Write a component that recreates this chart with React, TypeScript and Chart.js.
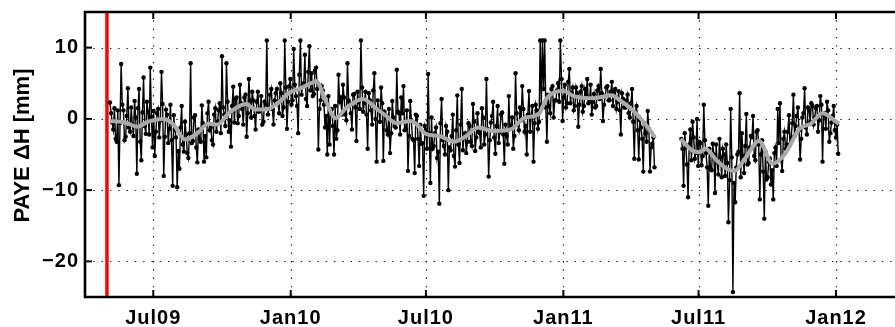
import React, { useEffect, useRef } from 'react';
import { Chart, registerables } from 'chart.js';

Chart.register(...registerables);

// x axis: days since 1 Jan 2009
const tickDays = [181, 365, 546, 730, 911, 1095];
const tickLabels = ['Jul09', 'Jan10', 'Jul10', 'Jan11', 'Jul11', 'Jan12'];
const yTickValues = [-20, -10, 0, 10];
const yTickLabels = ['\u221220', '\u221210', '0', '10'];
const X_MIN = 89.6;
const X_MAX = 1174;
const Y_MIN = -25;
const Y_MAX = 15;
const offsetDay = 119; // red vertical marker
const yTitle = 'PAYE \u0394H [mm]';

// raw daily solutions: main samples every 3 days, plus the samples half-way between them
const seg1StartDay = 123;
const seg2StartDay = 888;
const sampleStepDays = 3;

const seg1Values = [
  2.3, -0.5, 1.5, -3.2, -9.3, 7.7, 1.2, -2.5, 4.3, -1.8,
  -0.8, 2.5, -7.7, 4.2, -5.8, 5.8, -2.1, 1.0, 7.2, -4.0,
  -5.2, 0.8, -2.6, 6.6, -8.0, 1.3, -3.4, 2.0, -9.4, -1.5,
  -9.6, -7.0, 1.8, -4.6, -2.2, -5.5, 7.8, -3.1, 0.5, -6.1,
  -2.8, 1.9, -6.0, -5.4, 2.4, -1.2, -3.6, 1.5, -0.4, 2.2,
  8.8, 0.6, 7.8, -1.8, -3.9, 4.5, 2.8, -0.6, 4.8, 1.4,
  3.0, -2.5, 5.6, 0.2, 2.6, -1.5, 3.8, 1.2, -0.8, 2.4,
  11.0, 1.5, 4.2, -0.8, 3.6, 2.1, 5.0, 0.4, 11.0, -1.4,
  4.6, 2.0, 9.8, 3.2, -2.0, 11.0, 4.8, 9.0, 1.8, 10.2,
  6.4, 3.5, 7.2, -4.3, 2.6, 4.0, -1.2, -5.0, -3.6, 1.4,
  -5.0, -2.8, 6.2, 3.0, 4.8, 0.6, 7.8, 2.2, -1.5, 3.5,
  -3.1, 2.4, 11.0, 1.0, 3.8, -4.2, 2.6, -0.8, 6.4, -6.0,
  1.2, 4.4, -5.9, 0.5, -2.2, -4.8, 2.5, -1.0, 6.9, 0.8,
  3.0, 4.6, -1.5, -7.3, 2.5, -2.8, -7.6, 0.4, -6.6, -3.5,
  -10.8, -1.6, 6.3, -9.0, -4.2, -2.0, -5.5, -11.9, 2.8, -3.8,
  -1.0, -10.0, -4.4, 0.6, -6.7, 3.3, -6.2, 4.2, -2.5, -4.8,
  -0.6, -3.2, 2.1, -4.5, 0.8, -2.0, 1.5, -3.6, 5.6, -8.1,
  -0.5, 2.4, -4.9, 1.8, -1.8, 0.9, -6.3, -2.4, 3.2, -1.0,
  -4.2, 6.4, -0.8, 1.6, 4.6, -1.8, -5.0, 3.9, 0.4, -6.0,
  2.0, -1.4, 11.0, 11.0, 11.0, -3.2, 1.8, 4.2, 0.2, 2.6,
  5.0, 11.0, -0.3, 4.8, 2.2, 7.0, 3.6, 1.2, 4.4, -1.1,
  3.8, 1.0, 4.2, 5.6, 2.4, 0.6, 3.5, 1.8, 4.6, 7.0,
  -0.3, 3.2, 4.6, 2.6, 5.2, 3.8, 1.4, 3.9, -2.2, 2.8,
  1.6, 3.4, 0.2, 4.2, -5.6, 1.8, -5.7, -1.2, -7.4, -2.0, 1.1, -7.4, -3.5, -6.8,
];

const seg1MidValues = [
  0.8, -1.5, -2.8, 1.2, -0.6, 2.0, -3.0, 0.4, -1.2, 1.6,
  -2.4, 0.2, 1.5, -3.2, 0.9, -1.0, 2.4, -2.2, 0.3, 1.1,
  -1.8, 1.4, -0.2, 2.1, -2.5, 0.6, -1.4, -3.0, 0.5, -2.6,
  -4.5, -1.2, -3.6, -0.4, -4.8, -2.0, -3.4, 0.2, -4.0, -1.5,
  -3.2, -0.6, -2.4, 0.8, -1.6, -3.0, 0.6, -1.8, 1.2, -2.0,
  1.6, -1.0, 2.4, -0.2, 1.8, -0.5, 3.0, 0.4, 2.2, -0.8,
  3.4, 0.8, 2.6, 3.8, 0.4, 2.4, 1.0, 3.2, -0.4, 2.0,
  0.6, 3.4, 1.4, 2.6, 4.2, 0.8, 3.6, 1.6, 4.4, 2.4,
  5.6, 2.6, 4.8, 1.8, 6.2, 3.4, 5.0, 2.8, 6.6, 4.0,
  3.2, 6.8, 4.2, 1.4, 4.6, 2.0, 0.4, 3.2, 1.2, -1.0,
  1.8, -1.6, 2.4, 0.6, 3.0, -0.2, 2.6, 0.8, 3.4, 1.6,
  3.8, 1.4, 4.4, 2.2, 0.6, 3.6, 1.2, 4.0, 0.0, 2.6,
  -0.4, 2.2, 1.0, -1.6, 1.4, -2.0, 0.2, -1.2, 1.0, -2.2,
  0.8, -1.6, 1.2, -2.4, -0.2, -3.0, 0.6, -2.8, -0.8, -3.4,
  -1.0, -4.2, -2.0, 0.2, -3.8, -1.2, -4.6, -0.6, -3.0, -5.0,
  -1.8, -4.0, -2.4, -5.2, -1.6, -3.6, -0.8, -4.4, -2.0, -3.2,
  -1.0, -3.8, -0.4, -2.6, -1.8, -4.0, 0.2, -2.2, -1.4, -3.0,
  0.4, -2.6, -1.0, -3.4, 0.6, -2.2, -0.8, -3.6, -1.4, 0.2,
  -2.4, 0.8, -1.6, -0.2, 1.4, -1.0, 0.6, -1.8, 1.8, -0.6,
  1.2, -0.4, 2.0, 4.2, 1.6, 3.4, 0.8, 4.6, 2.6, 4.0,
  2.4, 5.6, 3.0, 1.6, 5.2, 2.2, 4.4, 1.8, 3.6, 2.0,
  4.6, 1.8, 3.4, 2.2, 4.8, 2.4, 1.6, 4.0, 2.8, 3.6,
  2.0, 4.4, 2.6, 3.8, 1.8, 4.2, 2.4, 1.2, 3.6, 1.6,
  2.6, 0.8, 2.2, -0.4, 1.0, -1.6, -0.2, -2.8, -0.6, -3.2, -1.4, -4.0, -2.6,
];

const seg2Values = [
  -2.8, -9.4, -4.0, -11.0, -1.5, -0.4, -5.6, 0.0, -3.2, -6.5,
  2.0, -4.8, -12.2, -7.0, -3.5, -10.4, -6.0, -2.8, -8.2, -5.0,
  -3.6, -14.5, 1.4, -24.3, -11.7, -5.0, 3.6, -2.0, -7.6, 0.7,
  -6.2, -2.4, 0.4, -5.8, -1.6, -11.3, -3.0, -14.0, -8.5, -6.0,
  -9.2, -11.3, -4.0, 1.4, 2.2, -7.3, -1.8, -3.6, 0.5, -2.6,
  3.4, -1.0, 1.6, -5.7, 0.2, 4.3, -2.2, 1.2, 2.2, -0.8,
  1.5, -1.8, 3.2, -6.0, 0.8, 2.4, -3.2, -0.5, 1.8, -2.6, -4.9,
];

const seg2MidValues = [
  -4.2, -2.0, -6.4, -3.6, -5.8, -2.6, -4.8, -6.6, -3.4, -5.2,
  -3.0, -6.8, -4.2, -7.2, -5.0, -3.6, -7.8, -5.4, -4.2, -8.0,
  -6.2, -8.6, -5.4, -9.0, -6.8, -4.6, -8.2, -5.2, -3.8, -6.4,
  -4.0, -2.6, -5.2, -1.8, -3.6, -5.0, -7.4, -4.6, -8.2, -5.6,
  -7.2, -4.8, -6.6, -3.4, -5.8, -2.8, -4.2, -1.8, -3.6, -0.6,
  -2.4, 0.4, -1.6, -2.8, 0.8, -1.2, 1.6, -0.4, 1.8, 0.2,
  1.8, -0.2, 2.0, 0.6, -1.4, 1.2, -2.0, 0.4, -1.6, -0.8,
];

// smoothed series
const smoothDays1 = [123, 143, 160, 174, 194, 207, 224, 240, 255, 267, 282, 305, 318, 331, 348, 362, 376, 392, 399, 412, 425, 439, 462, 479, 493, 506, 526, 533, 546, 564, 584, 600, 616, 636, 661, 677, 698, 707, 730, 744, 771, 795, 802, 824, 838, 853];
const smoothVals1 = [-0.3, -0.5, -1.1, -0.4, 0, -0.7, -2.9, -2.0, -0.7, -0.8, 0.8, 2.1, 1.3, 1.3, 2.2, 3.6, 4.2, 5.0, 5.3, 2.5, 0.1, 1.5, 2.8, 1.5, 0.4, -0.6, -0.3, -0.7, -2.1, -2.4, -3.2, -2.4, -1.2, -1.7, -1.4, 0.1, 0.8, 2.8, 3.9, 3.2, 2.9, 3.3, 2.9, 1.1, -0.5, -2.6];
const smoothDays2 = [887, 902, 912, 920, 936, 949, 959, 973, 992, 1010, 1027, 1046, 1061, 1077, 1094, 1099];
const smoothVals2 = [-2.8, -4.4, -4.7, -4.2, -5.9, -7.0, -7.3, -5.6, -3.1, -6.3, -4.9, -1.4, -0.7, 0.8, -0.3, -0.7];

const FONT = '"Liberation Sans", Arial, Helvetica, sans-serif';

const framePlugin = {
  id: 'matlabFrame',
  beforeDraw(chart: any) {
    chart.ctx.letterSpacing = '1px';
  },
  beforeDatasetsDraw(chart: any) {
    const { ctx, chartArea: a, scales } = chart;
    ctx.save();
    ctx.strokeStyle = '#1a1a1a';
    ctx.lineWidth = 1.2;
    ctx.setLineDash([1.4, 6.9]);
    tickDays.forEach((d) => {
      const x = Math.round(scales.x.getPixelForValue(d)) + 0.5;
      ctx.beginPath();
      ctx.moveTo(x, a.top);
      ctx.lineTo(x, a.bottom);
      ctx.stroke();
    });
    yTickValues.forEach((v) => {
      const y = Math.round(scales.y.getPixelForValue(v)) + 0.5;
      ctx.beginPath();
      ctx.moveTo(a.left, y);
      ctx.lineTo(a.right, y);
      ctx.stroke();
    });
    ctx.restore();
  },
  afterDatasetsDraw(chart: any) {
    const { ctx, chartArea: a, scales } = chart;
    ctx.save();
    ctx.setLineDash([]);
    ctx.strokeStyle = '#000';
    ctx.lineWidth = 2;
    tickDays.forEach((d) => {
      const x = scales.x.getPixelForValue(d);
      ctx.beginPath();
      ctx.moveTo(x, a.bottom);
      ctx.lineTo(x, a.bottom - 7);
      ctx.moveTo(x, a.top);
      ctx.lineTo(x, a.top + 7);
      ctx.stroke();
    });
    yTickValues.forEach((v) => {
      const y = scales.y.getPixelForValue(v);
      ctx.beginPath();
      ctx.moveTo(a.left, y);
      ctx.lineTo(a.left + 7, y);
      ctx.stroke();
    });
    ctx.lineWidth = 2.6;
    ctx.beginPath();
    ctx.moveTo(a.right + 5, a.top);
    ctx.lineTo(a.left, a.top);
    ctx.lineTo(a.left, a.bottom);
    ctx.lineTo(a.right + 5, a.bottom);
    ctx.stroke();
    ctx.restore();
  },
  afterDraw(chart: any) {
    const { ctx, chartArea: a } = chart;
    ctx.save();
    ctx.letterSpacing = '0px';
    ctx.fillStyle = '#000';
    ctx.font = `bold 22px ${FONT}`;
    ctx.textAlign = 'center';
    ctx.textBaseline = 'middle';
    ctx.translate(23, (a.top + a.bottom) / 2 - 9);
    ctx.rotate(-Math.PI / 2);
    ctx.fillText(yTitle, 0, 0);
    ctx.restore();
  },
};

function buildSeries(start: number, main: number[], mid: number[]) {
  const pts: { x: number; y: number }[] = [];
  main.forEach((v, i) => {
    pts.push({ x: start + i * sampleStepDays, y: v });
    if (i < mid.length) pts.push({ x: start + i * sampleStepDays + sampleStepDays / 2, y: mid[i] });
  });
  return pts;
}

export default function App() {
  const canvasRef = useRef<HTMLCanvasElement>(null);

  useEffect(() => {
    const canvas = canvasRef.current;
    if (!canvas) return;

    const raw1 = buildSeries(seg1StartDay, seg1Values, seg1MidValues);
    const raw2 = buildSeries(seg2StartDay, seg2Values, seg2MidValues);
    const sm1 = smoothDays1.map((d, i) => ({ x: d, y: smoothVals1[i] }));
    const sm2 = smoothDays2.map((d, i) => ({ x: d, y: smoothVals2[i] }));

    const smoothStyle = {
      borderColor: '#aaaaaa',
      borderWidth: 4,
      pointRadius: 0,
      cubicInterpolationMode: 'monotone' as const,
      fill: false,
      order: 0,
    };
    const rawStyle = {
      borderColor: '#000',
      borderWidth: 1.4,
      pointRadius: 2.2,
      pointBackgroundColor: '#000',
      pointBorderWidth: 0,
      tension: 0,
      fill: false,
      order: 1,
    };

    const zeroPad = (scale: any) => {
      scale.paddingTop = 0;
      scale.paddingBottom = 0;
      scale.paddingLeft = 0;
      scale.paddingRight = 0;
    };

    const chart = new Chart(canvas, {
      type: 'line',
      data: {
        datasets: [
          { label: 'smooth1', data: sm1, ...smoothStyle },
          { label: 'smooth2', data: sm2, ...smoothStyle },
          { label: 'raw1', data: raw1, ...rawStyle },
          { label: 'raw2', data: raw2, ...rawStyle },
          {
            label: 'offset',
            data: [
              { x: offsetDay, y: Y_MIN },
              { x: offsetDay, y: Y_MAX },
            ],
            borderColor: '#ff0000',
            borderWidth: 3.5,
            pointRadius: 0,
            order: 2,
          },
        ],
      },
      options: {
        animation: false,
        responsive: false,
        devicePixelRatio: 1,
        layout: { autoPadding: false, padding: { top: 12, right: 0, left: 0, bottom: 0 } },
        plugins: {
          legend: { display: false },
          tooltip: { enabled: false },
        },
        scales: {
          x: {
            type: 'linear',
            min: X_MIN,
            max: X_MAX,
            afterBuildTicks: (scale: any) => {
              scale.ticks = tickDays.map((v) => ({ value: v }));
            },
            afterFit: (scale: any) => {
              scale.height = 30;
              zeroPad(scale);
            },
            grid: { display: false, drawTicks: false },
            border: { display: false },
            ticks: {
              autoSkip: false,
              maxRotation: 0,
              minRotation: 0,
              padding: 9,
              color: '#000',
              font: { family: FONT, size: 20, weight: 'bold' },
              callback: (value: any) => {
                const i = tickDays.indexOf(Number(value));
                return i >= 0 ? tickLabels[i] : '';
              },
            },
          },
          y: {
            type: 'linear',
            min: Y_MIN,
            max: Y_MAX,
            afterBuildTicks: (scale: any) => {
              scale.ticks = yTickValues.map((v) => ({ value: v }));
            },
            afterFit: (scale: any) => {
              scale.width = 85;
              zeroPad(scale);
            },
            grid: { display: false, drawTicks: false },
            border: { display: false },
            ticks: {
              padding: 6,
              color: '#000',
              font: { family: FONT, size: 20, weight: 'bold' },
              callback: (value: any) => {
                const i = yTickValues.indexOf(Number(value));
                return i >= 0 ? yTickLabels[i] : '';
              },
            },
          },
        },
      },
      plugins: [framePlugin],
    } as any);

    return () => chart.destroy();
  }, []);

  return (
    <div style={{ position: 'absolute', left: 0, top: 0, width: 895, height: 327, background: '#fff' }}>
      <canvas ref={canvasRef} width={895} height={327} style={{ display: 'block' }} />
    </div>
  );
}
